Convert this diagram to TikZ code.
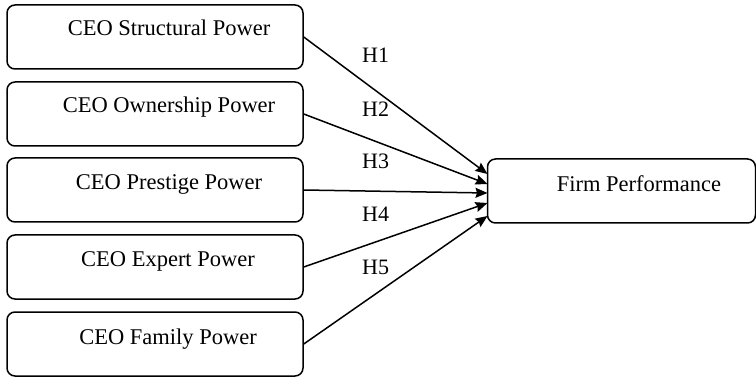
\documentclass[tikz,border=0pt]{standalone}
\usepackage{fontspec}
\setmainfont{Liberation Serif}
\usetikzlibrary{arrows.meta}
\begin{document}
\begin{tikzpicture}[x=1pt,y=-1pt,
  box/.style={draw=black,line width=1.5pt,rounded corners=8pt,minimum width=296pt,minimum height=64pt,inner sep=0pt},
  fbox/.style={draw=black,line width=1.5pt,rounded corners=8pt,minimum width=268pt,minimum height=64pt,inner sep=0pt},
  txt/.style={font=\fontsize{22.5}{26}\selectfont,inner sep=0pt,anchor=base},
  hl/.style={font=\fontsize{22}{26}\selectfont,inner sep=0pt,anchor=base west},
  arr/.style={line width=1.5pt,-{Stealth[length=12pt,width=10pt,inset=1.5pt]}}]
\useasboundingbox (0,0) rectangle (756,377);
\node[box] (b1) at (155,37) {};
\node[box] (b2) at (155,114) {};
\node[box] (b3) at (155,190) {};
\node[box] (b4) at (155,267) {};
\node[box] (b5) at (155,344) {};
\node[fbox] (fp) at (621.5,191) {};
\node[txt] (t1) at (169,36) {CEO Structural Power};
\node[txt] (t2) at (169,113) {CEO Ownership Power};
\node[txt] (t3) at (169,190) {CEO Prestige Power};
\node[txt] (t4) at (168,267) {CEO Expert Power};
\node[txt] (t5) at (168,344) {CEO Family Power};
\node[txt] (tf) at (639,192) {Firm Performance};
\node[hl] (h1) at (362,63) {H1};
\node[hl] (h2) at (362,117) {H2};
\node[hl] (h3) at (362,169) {H3};
\node[hl] (h4) at (362,222) {H4};
\node[hl] (h5) at (362,275) {H5};
\coordinate (e1) at (487.5,174);
\coordinate (e2) at (487.5,184);
\coordinate (e3) at (487.5,193);
\coordinate (e4) at (487.5,203);
\coordinate (e5) at (487.5,216);
\draw[arr] (b1.east) -- (e1);
\draw[arr] (b2.east) -- (e2);
\draw[arr] (b3.east) -- (e3);
\draw[arr] (b4.east) -- (e4);
\draw[arr] (b5.east) -- (e5);
\end{tikzpicture}
\end{document}
